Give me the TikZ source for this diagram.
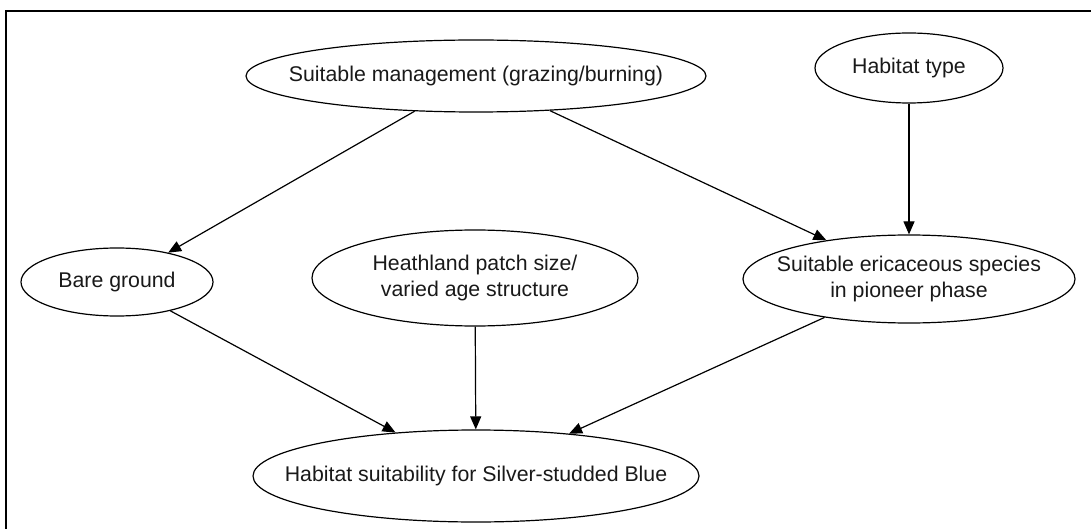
\documentclass[tikz,border=0pt]{standalone}
\usepackage{fontspec}
\setmainfont{Liberation Sans}
\usetikzlibrary{shapes.geometric,arrows.meta}
\begin{document}
\begin{tikzpicture}[x=1pt,y=-1pt,
  var/.style={ellipse,draw=black,line width=1.2pt,inner sep=0pt},
  caption/.style={align=center,inner sep=0pt,text=black!90,
    font=\fontsize{21.3}{26.5}\selectfont},
  link/.style={line width=1.2pt,-{Triangle[length=13pt,width=11pt]}}]
\useasboundingbox (0,0) rectangle (1091,529);
% frame
\draw[line width=2.4pt] (6.2,529) -- (6.2,11.2) -- (1091,11.2);
% variables: fixed-size ellipses with their captions on top
\node[var,minimum width=460pt,minimum height=72pt] (mgmt) at (476,76) {};
\node[caption] at (mgmt) {Suitable management (grazing/burning)};
\node[var,minimum width=188pt,minimum height=70pt] (htype) at (909,68) {};
\node[caption] at (htype) {Habitat type};
\node[var,minimum width=192pt,minimum height=68pt] (bare) at (117,282) {};
\node[caption] at (bare) {Bare ground};
\node[var,minimum width=326pt,minimum height=96pt] (heath) at (475,278) {};
\node[caption] at (heath) {Heathland patch size/\\varied age structure};
\node[var,minimum width=332pt,minimum height=88pt] (eric) at (909,279) {};
\node[caption] at (eric) {Suitable ericaceous species\\in pioneer phase};
\node[var,minimum width=446pt,minimum height=92pt] (suit) at (476,476) {};
\node[caption] at (suit) {Habitat suitability for Silver-studded Blue};
% dependencies
\draw[link] (mgmt) -- (bare);
\draw[link] (mgmt) -- (eric);
\draw[link] (htype) -- (eric);
\draw[link] (bare) -- (suit);
\draw[link] (heath) -- (suit);
\draw[link] (eric) -- (suit);
\end{tikzpicture}
\end{document}
